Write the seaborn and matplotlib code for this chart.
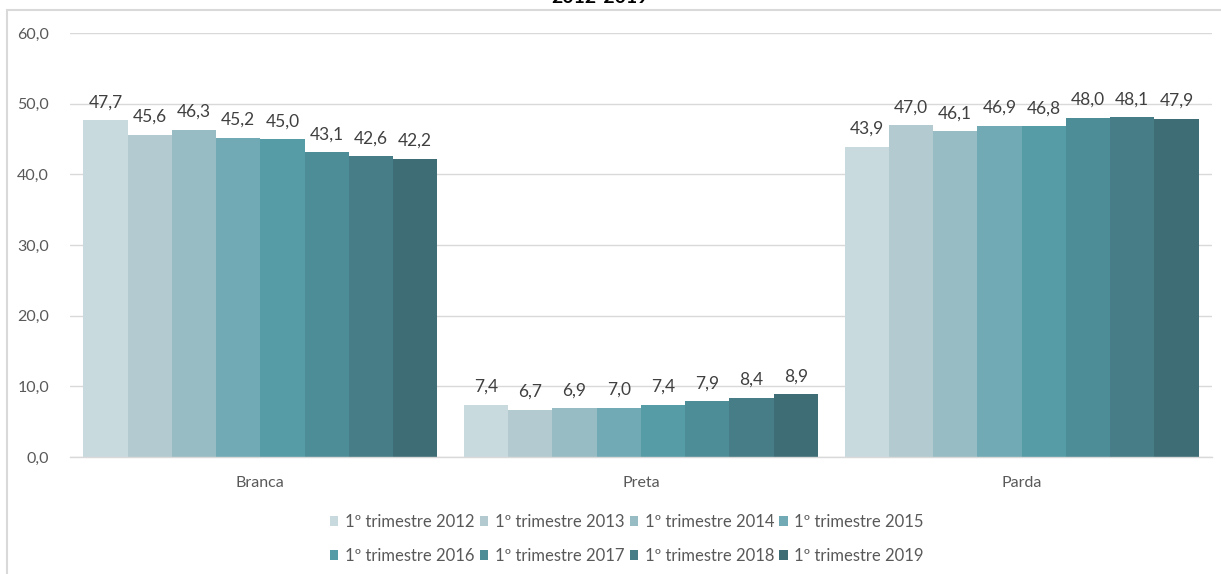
import matplotlib
matplotlib.use("Agg")
import matplotlib.pyplot as plt
from matplotlib.lines import Line2D
import seaborn as sns
import pandas as pd

# Population share by colour/race, first quarter of each year (%)
categories = ["Branca", "Preta", "Parda"]
periods = ["1º trimestre 2012", "1º trimestre 2013", "1º trimestre 2014", "1º trimestre 2015",
           "1º trimestre 2016", "1º trimestre 2017", "1º trimestre 2018", "1º trimestre 2019"]
branca = [47.7, 45.6, 46.3, 45.2, 45.0, 43.1, 42.6, 42.2]
preta = [7.4, 6.7, 6.9, 7.0, 7.4, 7.9, 8.4, 8.9]
parda = [43.9, 47.0, 46.1, 46.9, 46.8, 48.0, 48.1, 47.9]
y_ticks = [0, 10, 20, 30, 40, 50, 60]

palette = ["#C9DADE", "#B3CBD0", "#97BCC3", "#71AAB4",
           "#559CA7", "#4D8D97", "#467D86", "#3E6D76"]

rows = []
for cat, vals in zip(categories, [branca, preta, parda]):
    for per, v in zip(periods, vals):
        rows.append({"cor": cat, "periodo": per, "valor": v})
df = pd.DataFrame(rows)

sns.set_theme(style="white")
plt.rcParams["font.family"] = ["Lato", "DejaVu Sans"]

fig = plt.figure(figsize=(12.21, 5.74), dpi=100)
ax = fig.add_axes([0.0573, 0.2038, 0.9353, 0.7387])

sns.barplot(data=df, x="cor", y="valor", hue="periodo", order=categories,
            hue_order=periods, palette=palette, width=0.93, gap=0,
            saturation=1, edgecolor="none", linewidth=0, ax=ax, legend=True)

for cont in ax.containers:
    ax.bar_label(cont, labels=[f"{b.get_height():.1f}".replace(".", ",") for b in cont],
                 padding=7, fontsize=12.5, color="#404040")

ax.set_ylim(0, 60)
ax.set_yticks(y_ticks)
ax.set_yticklabels([f"{t:.1f}".replace(".", ",") for t in y_ticks])
ax.set_xlim(-0.5, 2.5)
ax.yaxis.grid(True, color="#D9D9D9", linewidth=1)
ax.set_axisbelow(True)
for side in ["top", "right", "left"]:
    ax.spines[side].set_visible(False)
ax.spines["bottom"].set_color("#D9D9D9")
ax.spines["bottom"].set_linewidth(1)
ax.tick_params(axis="y", length=0, pad=15, labelsize=11.5, labelcolor="#595959")
ax.tick_params(axis="x", length=0, pad=14, labelsize=11.5, labelcolor="#595959")
ax.set_xlabel("")
ax.set_ylabel("")

# Legend laid out row by row (two rows of four)
handles, labels = ax.get_legend_handles_labels()
ax.get_legend().remove()
order = [0, 4, 1, 5, 2, 6, 3, 7]
fig.legend([handles[i] for i in order], [labels[i] for i in order],
           loc="center", bbox_to_anchor=(0.5135, 0.061), ncol=4,
           frameon=False, fontsize=12, labelcolor="#595959",
           handlelength=0.5, handleheight=0.5, handletextpad=0.4,
           columnspacing=0.32, labelspacing=1.1)

# Chart frame
fig.add_artist(Line2D([7 / 1221, 1], [1 - 10 / 574, 1 - 10 / 574],
                      transform=fig.transFigure, color="#D9D9D9", linewidth=1.5))
fig.add_artist(Line2D([7 / 1221, 7 / 1221], [0, 1 - 10 / 574],
                      transform=fig.transFigure, color="#D9D9D9", linewidth=1.5))

fig.text(600 / 1221, 1 - 3 / 574, "2012-2019", ha="center", va="baseline",
         fontsize=14, fontweight="bold", color="#000000")

fig.savefig("out.png", dpi=100)
